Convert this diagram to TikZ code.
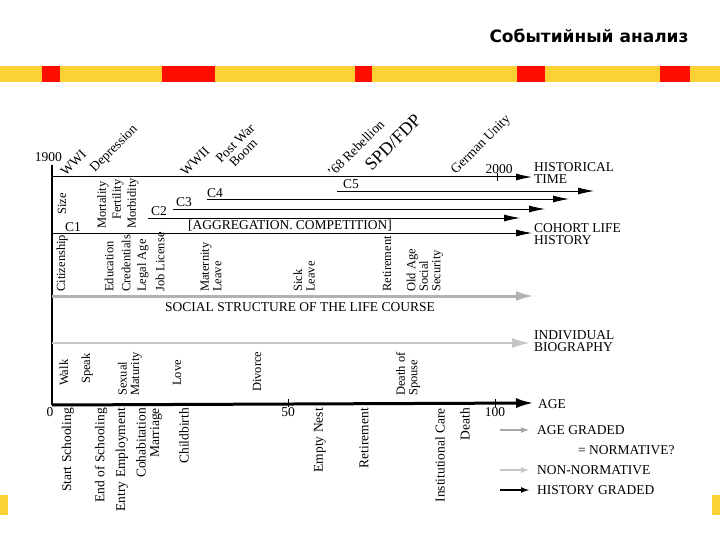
\documentclass[tikz,border=0pt]{standalone}
\usepackage{fontspec}
\setmainfont{Liberation Serif}
\newfontfamily\titlefont{DejaVu Sans}
\usetikzlibrary{arrows.meta}
\begin{document}
\begin{tikzpicture}[x=1pt,y=-1pt,
  lab/.style={font=\fontsize{13.5}{12.5}\selectfont,inner sep=0pt,align=left},
  vup/.style={lab,font=\fontsize{12.5}{12.5}\selectfont,rotate=90,anchor=west},
  vdn/.style={lab,rotate=90,anchor=east},
  diag/.style={lab,rotate=45,anchor=south west},
  harr/.style={line width=1pt,-{Latex[length=16pt,width=7pt]}},
  thin/.style={line width=0.8pt,-{Latex[length=16pt,width=7pt]}},
  graya/.style={line width=3pt,gray!70,-{Latex[length=18pt,width=10pt]}},
  blka/.style={line width=3pt,black,-{Latex[length=18pt,width=10pt]}}]
\useasboundingbox (0,0) rectangle (720,540);
% header bar
\fill[yellow!60!orange!80] (0,66) rectangle (720,82);
\foreach \a/\b in {42/60,162/215,355/372,517/545,660/690} \fill[red!90!orange] (\a,66) rectangle (\b,82);
\fill[yellow!60!orange!80] (0,495) rectangle (8,515);
\fill[yellow!60!orange!80] (712,495) rectangle (720,515);
\node[font=\titlefont\bfseries\fontsize{17}{17}\selectfont,anchor=east] (title) at (692,36) {Событийный анализ};
% axes
\coordinate (top) at (52,165);
\coordinate (org) at (52,405);
\draw[line width=1.5pt] (top) -- (org);
\node[lab,anchor=east] (y1900) at (62,157) {1900};
\coordinate (h0) at (52,177); \coordinate (h1) at (532,177);
\draw[harr] (h0) -- (h1);
\coordinate (t2000) at (497,177);
\draw (t2000) ++(0,-4) -- ++(0,8);
\node[lab,anchor=south] (l2000) at (499,174) {2000};
\coordinate (c5a) at (337,191); \coordinate (c5b) at (594,191);
\draw[thin] (c5a) -- (c5b);
\coordinate (c4a) at (207,199); \coordinate (c4b) at (569,199);
\draw[thin] (c4a) -- (c4b);
\coordinate (c3a) at (173,209); \coordinate (c3b) at (545,209);
\draw[thin] (c3a) -- (c3b);
\coordinate (c2a) at (148,218); \coordinate (c2b) at (520,218);
\draw[thin] (c2a) -- (c2b);
\coordinate (co0) at (52,233); \coordinate (co1) at (532,233);
\draw[thin] (co0) -- (co1);
\coordinate (s0) at (52,296); \coordinate (s1) at (534,296);
\draw[graya,gray!60] (s0) -- (s1);
\coordinate (i0) at (52,343); \coordinate (i1) at (530,343);
\draw[graya,gray!45,line width=2pt] (i0) -- (i1);
\coordinate (a1) at (534,403);
\draw[blka] (org) -- (a1);
\draw (288,399) -- (288,407);
\draw (495,399) -- (495,407);
\node[lab,anchor=north] (n0) at (50,407) {0};
\node[lab,anchor=north] (n50) at (288,407) {50};
\node[lab,anchor=north] (n100) at (495,407) {100};
% right labels
\node[lab,anchor=north west] (ht) at (534,162) {HISTORICAL\\TIME};
\node[lab,anchor=north west] (clh) at (534,223) {COHORT LIFE\\HISTORY};
\node[lab,anchor=north west] (ib) at (534,330) {INDIVIDUAL\\BIOGRAPHY};
\node[lab,anchor=west] (age) at (538,404) {AGE};
% diagonal events
\node[diag] (wwi) at (66,177) {WWI};
\node[diag] (dep) at (97,175) {Depression};
\node[diag] (wwii) at (186,177) {WWII};
\node[diag] (pwb) at (230,173) {Post War\\\ \ Boom};
\node[diag] (reb) at (333,178) {'68 Rebellion};
\node[diag,font=\fontsize{18}{18}\selectfont] (spd) at (372,172) {SPD/FDP};
\node[diag] (gu) at (458,177) {German Unity};
% cohort band
\node[vup] (size) at (62,215) {Size};
\node[lab] (c1) at (73,227) {C1};
\node[vup] (mor) at (103,229) {Mortality};
\node[vup] (fer) at (118,220) {Fertility};
\node[vup] (mbd) at (133,229) {Morbidity};
\node[lab] (c2) at (159,211) {C2};
\node[lab] (c3) at (184,202) {C3};
\node[lab] (c4) at (215,193) {C4};
\node[lab] (c5) at (351,184) {C5};
\node[lab] (agg) at (290,226) {[AGGREGATION. COMPETITION]};
% social structure band
\node[vup] (cit) at (62,292) {Citizenship};
\node[vup] (edu) at (109,292) {Education};
\node[vup] (cre) at (126,292) {Credentials};
\node[vup] (leg) at (143,292) {Legal Age};
\node[vup] (job) at (160,292) {Job License};
\node[vup] (mat) at (211,292) {Maternity\\Leave};
\node[vup] (sick) at (304,292) {Sick\\Leave};
\node[vup] (ret1) at (387,292) {Retirement};
\node[vup] (oas) at (425,292) {Old Age\\Social\\Security};
\node[lab] (ssl) at (300,307) {SOCIAL STRUCTURE OF THE LIFE COURSE};
% biography band
\node[vup] (walk) at (64,386) {Walk};
\node[vup] (speak) at (87,384) {Speak};
\node[vup] (sex) at (130,396) {Sexual\\Maturity};
\node[vup] (love) at (177,386) {Love};
\node[vup] (div) at (257,392) {Divorce};
\node[vup] (dos) at (408,396) {Death of\\Spouse};
% below axis
\node[vdn] (ss) at (68,408) {Start Schooling};
\node[vdn] (eos) at (101,408) {End of Schooling};
\node[vdn] (ee) at (122,408) {Entry Employment};
\node[vdn] (coh) at (141,408) {Cohabitation};
\node[vdn] (mar) at (156,408) {Marriage};
\node[vdn] (cb) at (184,408) {Childbirth};
\node[vdn] (en) at (320,408) {Empty Nest};
\node[vdn] (ret2) at (364,408) {Retirement};
\node[vdn] (ic) at (440,408) {Institutional Care};
\node[vdn] (dth) at (465,408) {Death};
% legend
\coordinate (g1a) at (500,430); \coordinate (g1b) at (530,430);
\draw[line width=2pt,gray!70,-{Latex[length=9pt,width=6pt,fill=gray!30]}] (g1a) -- (g1b);
\node[lab,anchor=west] (lg1) at (537,430) {AGE GRADED};
\node[lab,anchor=west] (lg1b) at (578,450) {= NORMATIVE?};
\coordinate (g2a) at (500,470); \coordinate (g2b) at (530,470);
\draw[line width=2pt,gray!45,-{Latex[length=9pt,width=6pt]}] (g2a) -- (g2b);
\node[lab,anchor=west] (lg2) at (537,470) {NON-NORMATIVE};
\coordinate (g3a) at (500,490); \coordinate (g3b) at (530,490);
\draw[line width=2pt,-{Latex[length=9pt,width=6pt]}] (g3a) -- (g3b);
\node[lab,anchor=west] (lg3) at (537,490) {HISTORY GRADED};
\end{tikzpicture}
\end{document}
